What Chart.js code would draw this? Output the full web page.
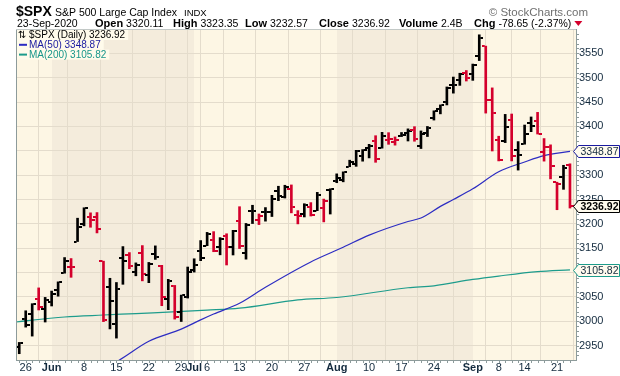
<!DOCTYPE html>
<html>
<head>
<meta charset="utf-8">
<title>$SPX S&amp;P 500 Large Cap Index</title>
<script src="https://cdn.jsdelivr.net/npm/chart.js@4/dist/chart.umd.min.js"></script>
<style>
  html, body { margin: 0; padding: 0; background: #fff; }
  #wadah { position: relative; width: 620px; height: 376px; }
</style>
</head>
<body>
<div id="wadah"><canvas id="chartSPX" width="620" height="376"></canvas></div>
<script>
// data harian $SPX
const dates = [
  '2020-05-22','2020-05-26','2020-05-27','2020-05-28','2020-05-29',
  '2020-06-01','2020-06-02','2020-06-03','2020-06-04','2020-06-05',
  '2020-06-08','2020-06-09','2020-06-10','2020-06-11','2020-06-12',
  '2020-06-15','2020-06-16','2020-06-17','2020-06-18','2020-06-19',
  '2020-06-22','2020-06-23','2020-06-24','2020-06-25','2020-06-26',
  '2020-06-29','2020-06-30','2020-07-01','2020-07-02',
  '2020-07-06','2020-07-07','2020-07-08','2020-07-09','2020-07-10',
  '2020-07-13','2020-07-14','2020-07-15','2020-07-16','2020-07-17',
  '2020-07-20','2020-07-21','2020-07-22','2020-07-23','2020-07-24',
  '2020-07-27','2020-07-28','2020-07-29','2020-07-30','2020-07-31',
  '2020-08-03','2020-08-04','2020-08-05','2020-08-06','2020-08-07',
  '2020-08-10','2020-08-11','2020-08-12','2020-08-13','2020-08-14',
  '2020-08-17','2020-08-18','2020-08-19','2020-08-20','2020-08-21',
  '2020-08-24','2020-08-25','2020-08-26','2020-08-27','2020-08-28',
  '2020-08-31','2020-09-01','2020-09-02','2020-09-03','2020-09-04',
  '2020-09-08','2020-09-09','2020-09-10','2020-09-11',
  '2020-09-14','2020-09-15','2020-09-16','2020-09-17','2020-09-18',
  '2020-09-21','2020-09-22','2020-09-23'
];
const opens = [
  2948.05,3004.08,3015.65,3046.61,3025.17,
  3038.78,3064.78,3098.90,3111.56,3163.84,
  3199.92,3213.32,3213.42,3123.53,3071.04,
  2993.76,3131.00,3136.13,3101.64,3140.29,
  3094.42,3138.70,3114.40,3046.60,3073.20,
  3018.59,3050.20,3105.92,3143.64,
  3155.29,3166.44,3153.07,3176.17,3152.47,
  3205.08,3141.11,3225.98,3208.36,3224.21,
  3224.29,3268.52,3254.86,3271.64,3218.58,
  3219.84,3234.27,3227.22,3231.76,3270.45,
  3288.26,3289.92,3317.37,3323.17,3340.05,
  3356.04,3370.34,3355.46,3372.95,3368.66,
  3380.86,3387.04,3392.51,3360.48,3386.01,
  3418.09,3435.95,3449.97,3485.14,3494.69,
  3509.73,3507.44,3543.76,3564.74,3453.60,
  3371.88,3369.82,3412.56,3352.70,
  3363.56,3407.73,3411.23,3346.86,3357.38,
  3285.57,3295.75,3320.11
];
const highs = [
  2956.76,3021.72,3036.25,3068.67,3049.17,
  3062.18,3081.07,3130.94,3128.91,3211.72,
  3233.13,3222.71,3223.27,3123.53,3088.42,
  3079.76,3153.45,3141.16,3120.00,3155.53,
  3120.92,3154.90,3115.01,3086.25,3073.73,
  3053.89,3111.51,3128.44,3165.81,
  3182.59,3184.15,3171.80,3179.78,3186.82,
  3235.32,3200.95,3238.28,3220.39,3233.52,
  3258.61,3277.29,3279.32,3279.99,3227.26,
  3241.43,3243.72,3264.74,3250.92,3272.17,
  3302.73,3306.84,3330.77,3351.03,3352.54,
  3363.29,3381.01,3387.89,3387.24,3378.51,
  3387.59,3395.06,3399.54,3390.80,3399.96,
  3432.09,3444.21,3481.07,3501.38,3509.23,
  3514.77,3528.03,3588.11,3564.85,3479.15,
  3379.97,3424.77,3425.55,3368.95,
  3402.93,3419.48,3428.92,3375.17,3362.27,
  3285.57,3320.31,3323.35
];
const lows = [
  2933.59,2988.17,2969.75,3023.40,2998.61,
  3031.54,3051.64,3098.90,3090.41,3163.84,
  3196.00,3193.11,3181.49,2999.49,2984.47,
  2965.66,3076.06,3108.03,3093.51,3083.11,
  3079.39,3127.12,3032.13,3024.01,3004.63,
  2999.74,3047.83,3101.17,3124.52,
  3155.29,3142.93,3136.53,3115.70,3136.22,
  3149.43,3127.66,3200.76,3198.59,3205.65,
  3215.16,3247.77,3253.10,3222.66,3200.05,
  3214.25,3216.17,3227.22,3204.13,3220.26,
  3284.53,3286.37,3317.37,3318.14,3328.72,
  3335.44,3326.44,3355.46,3363.35,3361.64,
  3379.22,3370.15,3369.66,3354.69,3379.31,
  3413.13,3425.84,3444.15,3468.35,3484.32,
  3493.25,3494.60,3535.23,3427.41,3349.63,
  3329.27,3366.84,3329.25,3310.47,
  3363.56,3389.25,3384.45,3328.82,3292.40,
  3229.10,3270.95,3232.57
];
const closes = [
  2955.45,2991.77,3036.13,3029.73,3044.31,
  3055.73,3080.82,3122.87,3112.35,3193.93,
  3232.39,3207.18,3190.14,3002.10,3041.31,
  3066.59,3124.74,3113.49,3115.34,3097.74,
  3117.86,3131.29,3050.33,3083.76,3009.05,
  3053.24,3100.29,3115.86,3130.01,
  3179.72,3145.32,3169.94,3152.05,3185.04,
  3155.22,3197.52,3226.56,3215.57,3224.73,
  3251.84,3257.30,3276.02,3235.66,3215.63,
  3239.41,3218.44,3258.44,3246.22,3271.12,
  3294.61,3306.51,3327.77,3349.16,3351.28,
  3360.47,3333.69,3380.35,3373.43,3372.85,
  3381.99,3389.78,3374.85,3385.51,3397.16,
  3431.28,3443.62,3478.73,3484.55,3508.01,
  3500.31,3526.65,3580.84,3455.06,3426.96,
  3331.84,3398.96,3339.19,3340.97,
  3383.54,3401.20,3385.49,3357.01,3319.47,
  3281.06,3315.57,3236.92
];
const prevClose = 2948.51;   // close sebelum bar pertama
const volumeText = '2.4B';

// moving average, dibaca per titik dari garisnya (indeks bar)
const ma50Idx = [13, 15, 20, 25, 28, 30, 34, 38, 45, 50, 54, 60, 62, 65, 67, 70, 74, 78, 81, 85];
const ma50Val = [2905, 2917, 2959, 2984, 3003, 3015, 3037, 3070, 3122, 3152, 3177, 3205, 3212, 3236, 3250, 3272, 3307, 3327, 3340, 3348.87];
const ma200Idx = [-1, 7, 13, 18, 29, 34, 43, 49, 60, 64, 70, 74, 80, 85];
const ma200Val = [2998, 3009, 3013, 3016, 3023, 3027, 3044, 3049, 3069, 3073, 3086, 3093, 3102, 3105.82];

const yTicks = [2950, 3000, 3050, 3100, 3150, 3200, 3250, 3300, 3350, 3400, 3450, 3500, 3550];
const xTickIdx = [1, 5, 10, 15, 20, 25, 27, 29, 34, 39, 44, 49, 54, 59, 64, 70, 74, 78, 83];
const xTickLabels = ['26','Jun','8','15','22','29','Jul','6','13','20','27','Aug','10','17','24','Sep','8','14','21'];
const monthNames = ['Jun', 'Jul', 'Aug', 'Sep'];

const FONT = '"Liberation Sans", Arial, sans-serif';
const C_UP = '#000000';
const C_DOWN = '#d4002c';
const C_MA50 = '#2c2cc2';
const C_MA200 = '#1d9c8c';
const C_AXIS = '#8d9b9b';
const C_TEXT = '#132a3e';

const isDown = closes.map((c, i) => c < (i === 0 ? prevClose : closes[i - 1]));

// gambar kecil buat tick open (kiri) & close (kanan)
function makeTick(side, color) {
  const c = document.createElement('canvas');
  c.width = 8; c.height = 2;
  const g = c.getContext('2d');
  g.fillStyle = color;
  if (side === 'open') g.fillRect(0, 0, 3, 2);
  else g.fillRect(5, 0, 3, 2);
  return c;
}
const tickImg = {
  openUp: makeTick('open', C_UP), openDown: makeTick('open', C_DOWN),
  closeUp: makeTick('close', C_UP), closeDown: makeTick('close', C_DOWN)
};

const latarPlugin = {
  id: 'latar',
  beforeDraw(chart) {
    const { ctx, chartArea: a, scales: { x } } = chart;
    ctx.save();
    ctx.fillStyle = '#fdf6e4';
    ctx.fillRect(a.left, a.top, a.right - a.left, a.bottom - a.top);
    let start = 0;
    for (let i = 1; i <= dates.length; i++) {
      if (i === dates.length || dates[i].slice(5, 7) !== dates[i - 1].slice(5, 7)) {
        const m = +dates[start].slice(5, 7);
        if (m % 2 === 0) {
          const x0 = start === 0 ? a.left : Math.round(x.getPixelForValue(start));
          const x1 = i === dates.length ? a.right : Math.round(x.getPixelForValue(i));
          ctx.fillStyle = '#f4ecdc';
          ctx.fillRect(x0, a.top, x1 - x0, a.bottom - a.top);
        }
        start = i;
      }
    }
    ctx.restore();
  }
};

const hiasanPlugin = {
  id: 'hiasan',
  afterDraw(chart) {
    const { ctx, chartArea: a, scales: { x, y } } = chart;
    const n = closes.length - 1;
    ctx.save();

    // garis tepi kiri & atas
    ctx.fillStyle = C_AXIS;
    ctx.fillRect(a.left, a.top, 1, a.bottom - a.top);
    ctx.fillStyle = '#c2c8c6';
    ctx.fillRect(a.left, a.top, a.right - a.left, 1);

    // tick kecil bawah (per bar) & kanan (tiap 10 poin)
    ctx.fillStyle = C_AXIS;
    for (let i = 0; i < dates.length; i++) {
      ctx.fillRect(Math.round(x.getPixelForValue(i)), a.bottom + 1, 1, 2);
    }
    for (let v = 2930; v < 3600; v += 10) {
      ctx.fillRect(a.right + 1, Math.round(y.getPixelForValue(v)), 2, 1);
    }

    // legenda kiri atas
    const rows = [
      { text: '$SPX (Daily) ' + closes[n].toFixed(2), color: '#000000', icon: true },
      { text: 'MA(50) ' + ma50Val[ma50Val.length - 1].toFixed(2), color: '#1a1aa0' },
      { text: 'MA(200) ' + ma200Val[ma200Val.length - 1].toFixed(2), color: '#17968a' }
    ];
    const dashColors = ['#000', C_MA50, C_MA200];
    ctx.textBaseline = 'middle';
    ctx.textAlign = 'left';
    rows.forEach((r, k) => {
      const cy = a.top + 6 + k * 9.8;
      ctx.font = '10px ' + FONT;
      const w = ctx.measureText(r.text).width;
      ctx.fillStyle = '#fffbeb';
      ctx.fillRect(a.left + 1, cy - 5, w + 15, 10);
      if (r.icon) {
        ctx.fillStyle = '#000';
        ctx.font = '10px "DejaVu Sans"';
        ctx.fillText('\u21C5', a.left + 2, cy + 0.5);
      } else {
        ctx.fillStyle = dashColors[k];
        ctx.fillRect(a.left + 3, cy - 1, 8, 2);
      }
      ctx.font = '10px ' + FONT;
      ctx.fillStyle = r.color;
      ctx.fillText(r.text, a.left + 13, cy + 0.5);
    });

    // label nilai terakhir di sumbu kanan
    const tag = (value, color, bold) => {
      const py = Math.round(y.getPixelForValue(value)) + 0.5;
      const x0 = a.right - 2.5, x1 = a.right + 2.5, x2 = 619.5;
      ctx.beginPath();
      ctx.moveTo(x0, py);
      ctx.lineTo(x1, py - 6);
      ctx.lineTo(x2, py - 6);
      ctx.lineTo(x2, py + 6);
      ctx.lineTo(x1, py + 6);
      ctx.closePath();
      ctx.fillStyle = '#fffbee';
      ctx.fill();
      ctx.strokeStyle = color;
      ctx.lineWidth = 1;
      ctx.stroke();
      ctx.fillStyle = bold ? '#000' : C_TEXT;
      ctx.font = (bold ? 'bold ' : '') + '10.5px ' + FONT;
      ctx.textAlign = 'center';
      ctx.fillText(value.toFixed(2), (x1 + x2) / 2 + 0.5, py + 0.5);
      ctx.textAlign = 'left';
    };
    tag(ma50Val[ma50Val.length - 1], '#1a1aa0', false);
    tag(ma200Val[ma200Val.length - 1], C_MA200, false);
    tag(closes[n], '#000', true);

    // judul
    ctx.textBaseline = 'alphabetic';
    ctx.fillStyle = '#000';
    ctx.font = 'bold 14px ' + FONT;
    ctx.fillText('$SPX', 16, 16);
    ctx.font = '10.5px ' + FONT;
    ctx.fillText('S&P 500 Large Cap Index', 55, 16);
    ctx.font = '9.5px ' + FONT;
    ctx.fillText('INDX', 184, 16);
    ctx.fillStyle = '#707070';
    ctx.font = '11.5px ' + FONT;
    ctx.textAlign = 'right';
    ctx.fillText('\u00A9 StockCharts.com', 588, 16);
    ctx.textAlign = 'left';

    const chg = closes[n] - closes[n - 1];
    const pct = chg / closes[n - 1] * 100;
    ctx.fillStyle = '#000';
    ctx.font = '10.5px ' + FONT;
    ctx.fillText('23-Sep-2020', 17, 27);
    const fields = [
      ['Open', opens[n].toFixed(2), 95],
      ['High', highs[n].toFixed(2), 173],
      ['Low', lows[n].toFixed(2), 245],
      ['Close', closes[n].toFixed(2), 319],
      ['Volume', volumeText, 399],
      ['Chg', chg.toFixed(2) + ' (' + pct.toFixed(2) + '%)', 474]
    ];
    let endX = 0;
    fields.forEach(([lab, val, fx]) => {
      ctx.font = 'bold 11px ' + FONT;
      ctx.fillText(lab, fx, 27);
      const lw = ctx.measureText(lab).width;
      ctx.font = '10.5px ' + FONT;
      ctx.fillText(val, fx + lw + 3, 27);
      endX = fx + lw + 3 + ctx.measureText(val).width;
    });
    ctx.fillStyle = C_DOWN;
    ctx.beginPath();
    ctx.moveTo(endX + 3, 21);
    ctx.lineTo(endX + 11, 21);
    ctx.lineTo(endX + 7, 26);
    ctx.closePath();
    ctx.fill();
    ctx.restore();
  }
};

const xLabelAt = {};
xTickIdx.forEach((v, i) => { xLabelAt[v] = xTickLabels[i]; });

const chartConfig = {
  type: 'bar',
  data: {
    datasets: [
      {
        type: 'scatter',
        label: 'Open',
        data: opens.map((o, i) => ({ x: i, y: o })),
        pointStyle: c => isDown[c.dataIndex] ? tickImg.openDown : tickImg.openUp,
        pointRadius: 1,
        order: 0
      },
      {
        type: 'scatter',
        label: 'Close',
        data: closes.map((v, i) => ({ x: i, y: v })),
        pointStyle: c => isDown[c.dataIndex] ? tickImg.closeDown : tickImg.closeUp,
        pointRadius: 1,
        order: 0
      },
      {
        type: 'bar',
        label: 'High-Low',
        data: lows.map((l, i) => ({ x: i, y: [l, highs[i]] })),
        backgroundColor: c => isDown[c.dataIndex] ? C_DOWN : C_UP,
        barThickness: 2,
        order: 1
      },
      {
        type: 'line',
        label: 'MA(50)',
        data: ma50Idx.map((v, i) => ({ x: v, y: ma50Val[i] })),
        borderColor: C_MA50,
        borderWidth: 1.2,
        pointRadius: 0,
        cubicInterpolationMode: 'monotone',
        order: 2
      },
      {
        type: 'line',
        label: 'MA(200)',
        data: ma200Idx.map((v, i) => ({ x: v, y: ma200Val[i] })),
        borderColor: C_MA200,
        borderWidth: 1.2,
        pointRadius: 0,
        cubicInterpolationMode: 'monotone',
        order: 2
      }
    ]
  },
  options: {
    responsive: false,
    animation: false,
    devicePixelRatio: 1,
    events: [],
    layout: { padding: { left: 16, top: 29, right: 0, bottom: 0 } },
    plugins: { legend: { display: false }, tooltip: { enabled: false } },
    scales: {
      x: {
        type: 'linear',
        min: -0.5,
        max: 85.93,
        offset: false,
        afterBuildTicks: s => { s.ticks = xTickIdx.map(v => ({ value: v })); },
        afterFit: s => { s.height = 16; },
        grid: { color: '#e4dccc', drawTicks: false },
        border: { color: C_AXIS },
        ticks: {
          autoSkip: false,
          maxRotation: 0,
          padding: 1,
          color: C_TEXT,
          font: c => ({ family: FONT, size: 11, weight: monthNames.includes(xTickLabels[c.index]) ? 'bold' : 'normal' }),
          callback: v => xLabelAt[v] ?? ''
        }
      },
      y: {
        position: 'right',
        min: 2920.7,
        max: 3600,
        afterBuildTicks: s => { s.ticks = yTicks.map(v => ({ value: v })); },
        afterFit: s => { s.width = 44; },
        grid: { color: '#e4dccc', drawTicks: false },
        border: { color: C_AXIS },
        ticks: { padding: 3, color: C_TEXT, font: { family: FONT, size: 11 }, callback: v => String(v) }
      }
    }
  },
  plugins: [latarPlugin, hiasanPlugin]
};

const ctx = document.getElementById('chartSPX');
const wadahChart = new Chart(ctx, chartConfig);
</script>
</body>
</html>
